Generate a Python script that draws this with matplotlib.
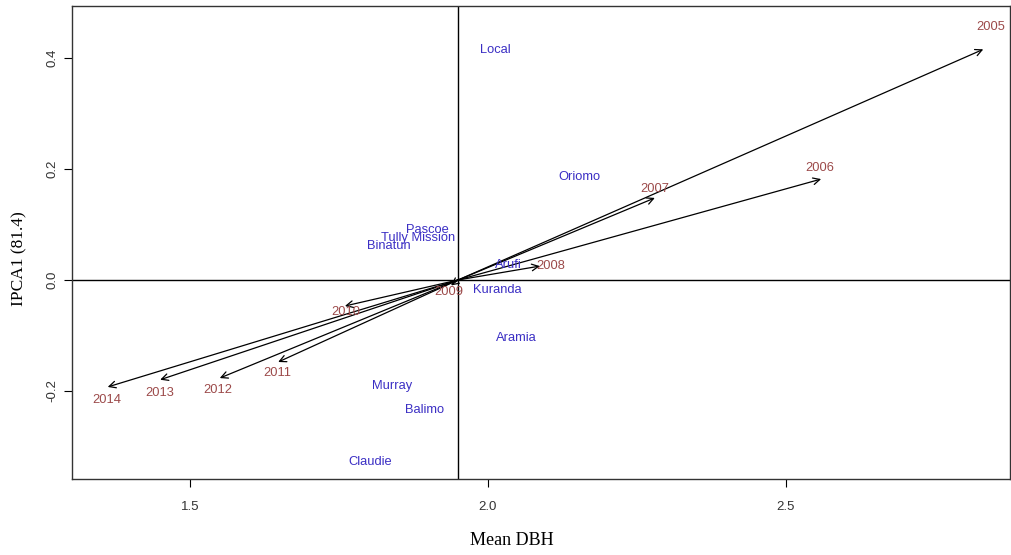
import matplotlib.pyplot as plt

# environment (year) vectors: arrow tips and label positions
years = ['2005', '2006', '2007', '2008', '2009', '2010', '2011', '2012', '2013', '2014']
year_x = [2.831, 2.559, 2.280, 2.087, 1.938, 1.760, 1.648, 1.550, 1.450, 1.362]
year_y = [0.416, 0.182, 0.148, 0.025, -0.010, -0.047, -0.148, -0.177, -0.180, -0.193]
year_lx = [2.843, 2.557, 2.280, 2.106, 1.935, 1.762, 1.646, 1.547, 1.450, 1.361]
year_ly = [0.456, 0.202, 0.164, 0.025, -0.022, -0.058, -0.167, -0.198, -0.204, -0.216]

# genotypes
genos = ['Local', 'Oriomo', 'Pascoe', 'Tully Mission', 'Binatun', 'Arufi',
         'Kuranda', 'Aramia', 'Murray', 'Balimo', 'Claudie']
geno_x = [2.012, 2.154, 1.899, 1.883, 1.834, 2.034, 2.015, 2.047, 1.839, 1.894, 1.802]
geno_y = [0.414, 0.186, 0.090, 0.076, 0.061, 0.027, -0.018, -0.105, -0.191, -0.234, -0.328]

grand_mean = 1.95

fig = plt.figure(figsize=(10.12, 5.55), dpi=100)
ax = fig.add_axes([0.0711, 0.137, 0.927, 0.852])

ax.axvline(grand_mean, color='black', lw=1)
ax.axhline(0, color='black', lw=1)

for x, y in zip(year_x, year_y):
    ax.annotate('', xy=(x, y), xytext=(grand_mean, 0),
                arrowprops=dict(arrowstyle='->', color='black', lw=0.9,
                                mutation_scale=12, shrinkA=0, shrinkB=0))

ycol = '#9c4a4a'
gcol = '#3b2fc4'
for lab, x, y in zip(years, year_lx, year_ly):
    ax.text(x, y, lab, color=ycol, ha='center', va='center',
            fontsize=9.3, family='Liberation Sans')
for lab, x, y in zip(genos, geno_x, geno_y):
    ax.text(x, y, lab, color=gcol, ha='center', va='center',
            fontsize=9.3, family='Liberation Sans')

ax.set_xlim(1.302, 2.876)
ax.set_ylim(-0.359, 0.494)
ax.set_xticks([1.5, 2.0, 2.5])
ax.set_yticks([-0.2, 0.0, 0.2, 0.4])
ax.set_xticklabels(['1.5', '2.0', '2.5'])
ax.set_yticklabels(['-0.2', '0.0', '0.2', '0.4'], rotation=90, va='center')
ax.tick_params(length=6, width=0.8, labelsize=9.5, labelcolor='#333333')
ax.tick_params(axis='x', pad=10)
ax.tick_params(axis='y', pad=4)
for lab in ax.get_xticklabels() + ax.get_yticklabels():
    lab.set_family('Liberation Sans')
for s in ax.spines.values():
    s.set_linewidth(1)
    s.set_color('#333333')

ax.set_xlabel('Mean DBH', family='Liberation Serif', fontsize=13)
ax.set_ylabel('IPCA1 (81.4)', family='Liberation Serif', fontsize=12.5)
ax.xaxis.set_label_coords(0.469, -0.113)
ax.yaxis.set_label_coords(-0.048, 0.467)

fig.savefig('out.png', dpi=100)
